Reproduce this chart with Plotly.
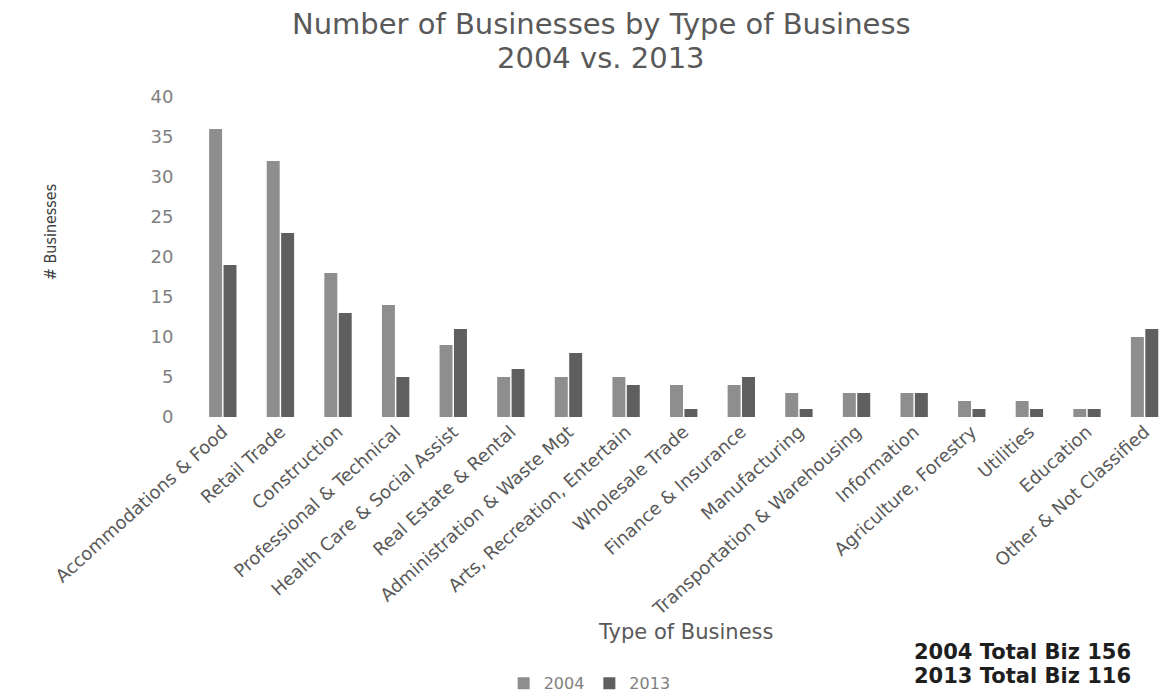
import plotly.graph_objects as go

# Business categories and counts for the two survey years
categories = [
    "Accommodations & Food", "Retail Trade", "Construction",
    "Professional & Technical", "Health Care & Social Assist",
    "Real Estate & Rental", "Administration & Waste Mgt",
    "Arts, Recreation, Entertain", "Wholesale Trade", "Finance & Insurance",
    "Manufacturing", "Transportation & Warehousing", "Information",
    "Agriculture, Forestry", "Utilities", "Education", "Other & Not Classified",
]
counts_2004 = [36, 32, 18, 14, 9, 5, 5, 5, 4, 4, 3, 3, 3, 2, 2, 1, 10]
counts_2013 = [19, 23, 13, 5, 11, 6, 8, 4, 1, 5, 1, 3, 3, 1, 1, 1, 11]
y_ticks = [0, 5, 10, 15, 20, 25, 30, 35, 40]

total_2004 = sum(counts_2004)
total_2013 = sum(counts_2013)

WIDE_FONT = "DejaVu Sans, Verdana, sans-serif"
GREY_TEXT = "#595959"

fig = go.Figure()
fig.add_trace(go.Bar(
    name="2004", x=list(range(len(categories))), y=counts_2004,
    marker=dict(color="#8e8e8e", line=dict(width=0)),
))
fig.add_trace(go.Bar(
    name="2013", x=list(range(len(categories))), y=counts_2013,
    marker=dict(color="#5f5f5f", line=dict(width=0)),
))

fig.update_layout(
    width=1159, height=696,
    paper_bgcolor="white", plot_bgcolor="white",
    margin=dict(l=194, r=0, t=97, b=279, autoexpand=False),
    barmode="group", bargap=0.5, bargroupgap=0.1,
    showlegend=True,
    legend=dict(
        orientation="h", x=0.41, xanchor="center", y=-0.832, yanchor="middle",
        font=dict(family=WIDE_FONT, size=16, color="#7f7f7f"),
        itemwidth=30, traceorder="normal",
    ),
    xaxis=dict(
        range=[-0.5, 16.25],
        tickmode="array", tickvals=list(range(len(categories))), ticktext=categories,
        tickangle=-42,
        tickfont=dict(family=WIDE_FONT, size=18, color=GREY_TEXT),
        showgrid=False, zeroline=False, showline=False, ticks="",
    ),
    yaxis=dict(
        range=[0, 40], tickmode="array", tickvals=y_ticks,
        tickfont=dict(family=WIDE_FONT, size=18, color="#808080"),
        showgrid=False, zeroline=False, showline=False,
        ticks="outside", ticklen=16, tickcolor="rgba(0,0,0,0)",
    ),
    annotations=[
        # two-line chart title
        dict(
            text="Number of Businesses by Type of Business",
            xref="paper", yref="paper", x=0.422, y=1.228,
            xanchor="center", yanchor="middle", showarrow=False,
            font=dict(family=WIDE_FONT, size=29, color=GREY_TEXT),
        ),
        dict(
            text="2004 vs. 2013",
            xref="paper", yref="paper", x=0.422, y=1.122,
            xanchor="center", yanchor="middle", showarrow=False,
            font=dict(family=WIDE_FONT, size=29, color=GREY_TEXT),
        ),
        dict(
            text="# Businesses", textangle=-90,
            xref="paper", yref="paper", x=-0.149, y=0.578,
            xanchor="center", yanchor="middle", showarrow=False,
            font=dict(family="Liberation Sans Narrow, DejaVu Sans Condensed, sans-serif",
                      size=16, color="#404040"),
        ),
        dict(
            text="Type of Business",
            xref="paper", yref="paper", x=0.509, y=-0.672,
            xanchor="center", yanchor="middle", showarrow=False,
            font=dict(family=WIDE_FONT, size=21, color=GREY_TEXT),
        ),
        # totals block, one annotation per line
        dict(
            text=f"<b>2004 Total Biz {total_2004}</b>",
            xref="paper", yref="paper", x=0.973, y=-0.734,
            xanchor="right", yanchor="middle", showarrow=False,
            font=dict(family=WIDE_FONT, size=21, color="#1e1e1e"),
        ),
        dict(
            text=f"<b>2013 Total Biz {total_2013}</b>",
            xref="paper", yref="paper", x=0.973, y=-0.809,
            xanchor="right", yanchor="middle", showarrow=False,
            font=dict(family=WIDE_FONT, size=21, color="#1e1e1e"),
        ),
    ],
)

fig.write_html("out.html")
